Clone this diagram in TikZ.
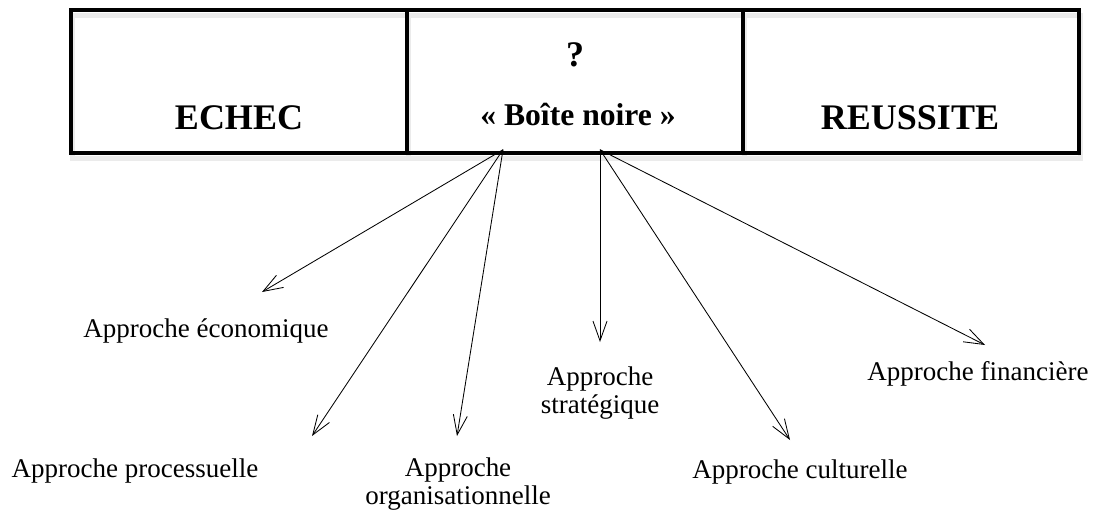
\documentclass[tikz,border=0pt]{standalone}
\usepackage{fontspec}
\setmainfont{Liberation Serif}
\usetikzlibrary{arrows.meta,positioning,calc}

\begin{document}
\begin{tikzpicture}[x=0.025cm, y=-0.025cm]
    % Define styles
    \tikzstyle{caisse}=[draw, line width=2.4pt, minimum width=8.4cm, minimum height=3.575cm, inner sep=0pt,
        preaction={draw=black!8, line width=4pt, transform canvas={shift={(1pt,-4pt)}}}]
    \tikzstyle{titre}=[font=\fontsize{25.6}{28}\selectfont\bfseries, inner sep=0pt]
    \tikzstyle{approche}=[font=\fontsize{19.2}{20}\selectfont, align=center, inner sep=0pt]
    \tikzstyle{fleche}=[-{Straight Barb[length=14pt,width=10pt]}, line width=0.6pt]

    \useasboundingbox (0,0) rectangle (1103,518);

    % Draw the three boxes
    \node[caisse] (echec) at (239,81.5) {};
    \node[caisse] (boite) at (575,81.5) {};
    \node[caisse] (reussite) at (911,81.5) {};

    % Box texts
    \node[titre, anchor=base] (t-echec) at (239,130) {ECHEC};
    \node[titre, anchor=base] (t-question) at (575,67) {?};
    \node[titre, font=\fontsize{22.5}{24}\selectfont\bfseries, anchor=base] (t-boite) at (578,126) {« Boîte noire »};
    \node[titre, anchor=base] (t-reussite) at (910,130) {REUSSITE};

    % Approaches
    \node[approche, anchor=base] (eco) at (206,337) {Approche économique};
    \node[approche, anchor=base] (proc) at (135,477) {Approche processuelle};
    \node[approche, anchor=north] (org) at (458,457) {Approche\\organisationnelle};
    \node[approche, anchor=north] (strat) at (600,366) {Approche\\stratégique};
    \node[approche, anchor=base] (cult) at (800,478) {Approche culturelle};
    \node[approche, anchor=base] (fin) at (978,380) {Approche financière};

    % Arrow origins on the black box
    \coordinate (g) at ($(boite.south)+(-72,-5)$);
    \coordinate (d) at ($(boite.south)+(25,-5)$);

    % Connect box to approaches
    \foreach \cible/\px/\py in {eco/262/292, proc/312/436, org/457/436} {
        \coordinate (\cible-pointe) at (\px,\py);
        \draw[fleche] (g) -- (\cible-pointe);
    }
    \foreach \cible/\px/\py in {strat/600/342, cult/790/440, fin/985/345} {
        \coordinate (\cible-pointe) at (\px,\py);
        \draw[fleche] (d) -- (\cible-pointe);
    }
\end{tikzpicture}
\end{document}
